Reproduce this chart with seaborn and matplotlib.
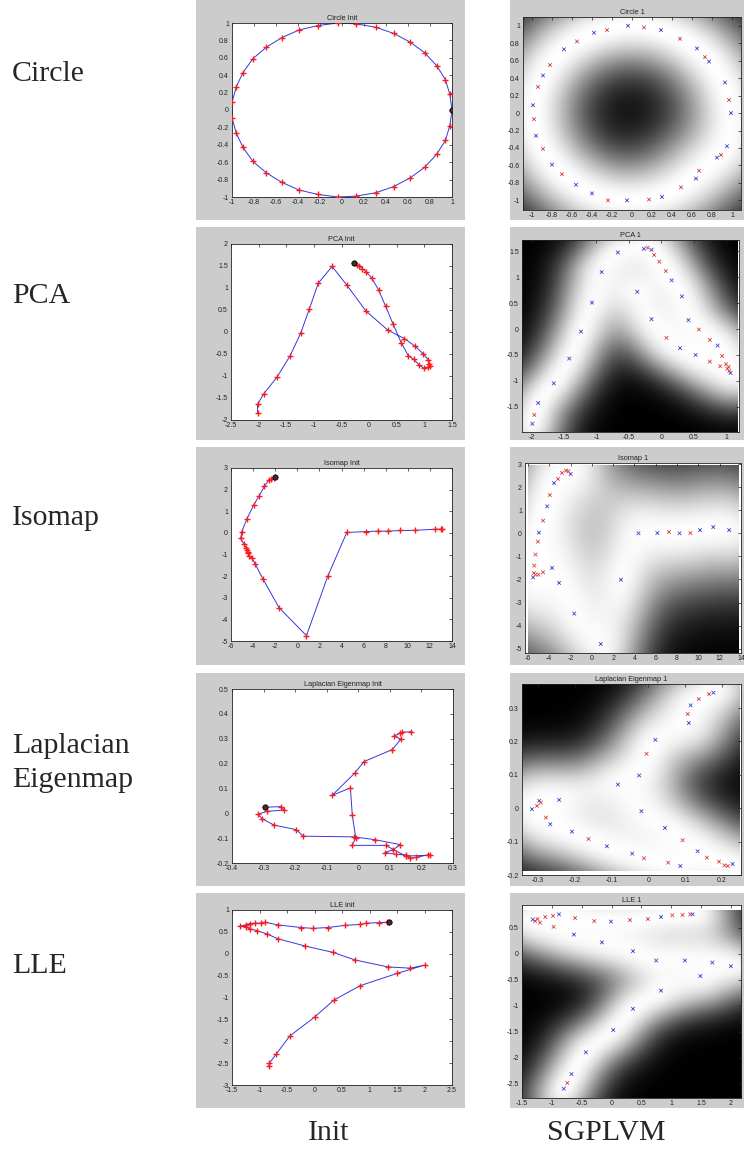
import numpy as np
import matplotlib
matplotlib.use("Agg")
import matplotlib.pyplot as plt
from matplotlib.patches import Rectangle
import seaborn as sns

sns.set_theme(style="white")
plt.rcParams["font.family"] = ["Liberation Sans", "DejaVu Sans"]
plt.rcParams["axes.unicode_minus"] = False

# ---------------------------------------------------------------- data
# Circle: initialisation (ordered path) and learned latent points
circle_init_x = [1.00, 0.98, 0.94, 0.86, 0.75, 0.62, 0.47, 0.31, 0.13, -0.04, -0.22, -0.39,
                 -0.55, -0.69, -0.81, -0.90, -0.96, -1.00, -1.00, -0.96, -0.90, -0.81, -0.69,
                 -0.55, -0.39, -0.22, -0.04, 0.13, 0.31, 0.47, 0.62, 0.75, 0.86, 0.94, 0.98]
circle_init_y = [0.00, 0.18, 0.35, 0.51, 0.66, 0.78, 0.88, 0.95, 0.99, 1.00, 0.97, 0.92,
                 0.83, 0.72, 0.59, 0.43, 0.27, 0.09, -0.09, -0.27, -0.43, -0.59, -0.72,
                 -0.83, -0.92, -0.97, -1.00, -0.99, -0.95, -0.88, -0.78, -0.66, -0.51, -0.35, -0.18]
circle_fit_x = [-0.04, 0.12, 0.29, 0.48, 0.65, 0.73, 0.77, 0.93, 0.97, 0.99, 0.95, 0.89,
                0.85, 0.67, 0.64, 0.49, 0.30, 0.17, -0.05, -0.24, -0.40, -0.56, -0.70, -0.80,
                -0.89, -0.96, -0.98, -0.99, -0.94, -0.89, -0.82, -0.68, -0.55, -0.38, -0.25]
circle_fit_y = [1.00, 0.98, 0.95, 0.85, 0.74, 0.64, 0.59, 0.35, 0.15, 0.00, -0.38, -0.48,
                -0.51, -0.66, -0.75, -0.85, -0.96, -0.99, -1.00, -1.00, -0.92, -0.82, -0.70,
                -0.59, -0.41, -0.26, -0.07, 0.09, 0.30, 0.43, 0.55, 0.73, 0.82, 0.92, 0.95]
circle_fit_c = list("brbrbrbbrbbrbrbrbrbrbbrbrbrbrbrbrbr")

# PCA
pca_init_x = [-0.27, -0.22, -0.18, -0.12, -0.05, 0.05, 0.17, 0.30, 0.43, 0.58, 0.71, 0.81,
              0.91, 0.99, 1.07, 1.11, 1.09, 1.07, 0.98, 0.83, 0.64, 0.34, -0.06, -0.40,
              -0.67, -0.92, -1.08, -1.24, -1.43, -1.67, -1.91, -2.02, -2.02]
pca_init_y = [1.57, 1.53, 1.50, 1.44, 1.36, 1.22, 0.96, 0.58, 0.19, -0.24, -0.54, -0.62,
              -0.76, -0.82, -0.80, -0.77, -0.73, -0.63, -0.50, -0.32, -0.15, 0.04, 0.48, 1.06,
              1.49, 1.11, 0.53, -0.03, -0.54, -1.03, -1.41, -1.64, -1.83]
pca_fit_x = [-1.99, -1.96, -1.90, -1.66, -1.42, -1.24, -1.07, -0.92, -0.67, -0.37, -0.15,
             0.08, 0.29, 0.53, 0.75, 0.91, 1.00, 1.02, 1.05, 1.07, 1.04, 0.94, 0.87, 0.75,
             0.58, 0.42, 0.32, 0.16, 0.07, -0.03, -0.11, -0.15, -0.21, -0.27]
pca_fit_y = [-1.83, -1.66, -1.43, -1.05, -0.57, -0.05, 0.51, 1.10, 1.48, 0.72, 0.19,
             -0.17, -0.37, -0.50, -0.63, -0.72, -0.68, -0.77, -0.81, -0.85, -0.73, -0.52,
             -0.32, -0.21, -0.01, 0.17, 0.63, 0.94, 1.12, 1.30, 1.43, 1.53, 1.57, 1.55]
pca_fit_c = list("brbbbbbbbbbrbbrrrrrbrrbrrbbbrrrbrb")

# Isomap
iso_init_x = [-1.98, -2.13, -2.37, -2.56, -2.98, -3.46, -3.95, -4.55, -5.03, -5.12, -4.82,
              -4.64, -4.58, -4.49, -4.43, -4.34, -4.13, -3.79, -3.10, -1.65, 0.83, 2.76,
              4.48, 6.24, 7.26, 8.17, 9.32, 10.68, 12.49, 13.00, 13.12]
iso_init_y = [2.60, 2.55, 2.51, 2.45, 2.15, 1.71, 1.28, 0.66, 0.05, -0.26, -0.52, -0.68,
              -0.80, -0.88, -0.95, -1.06, -1.14, -1.46, -2.14, -3.46, -4.75, -2.00, 0.02,
              0.06, 0.08, 0.08, 0.11, 0.12, 0.17, 0.17, 0.17]
iso_fit_x = [-1.99, -2.20, -2.42, -2.80, -3.17, -3.54, -3.94, -4.19, -4.57, -4.97, -5.06,
             -5.28, -5.40, -5.43, -5.50, -5.28, -5.00, -4.57, -3.73, -3.07, -1.65, 0.84,
             2.73, 4.38, 6.15, 7.24, 8.23, 9.25, 10.16, 11.40, 12.89]
iso_fit_y = [2.57, 2.69, 2.72, 2.62, 2.36, 2.18, 1.66, 1.17, 0.55, 0.03, -0.36, -0.92,
             -1.40, -1.72, -1.91, -1.79, -1.79, -1.69, -1.50, -2.15, -3.48, -4.80, -2.01,
             0.00, 0.01, 0.06, 0.00, 0.01, 0.14, 0.27, 0.14]
iso_fit_c = list("brrrrbrbrbrrrrbrrrbbbbbbbrbrbbb")

# Laplacian Eigenmap
lap_init_x = [-0.297, -0.244, -0.235, -0.289, -0.319, -0.304, -0.268, -0.196, -0.175, -0.013,
              0.052, 0.133, 0.111, 0.084, 0.118, 0.150, 0.163, 0.184, 0.227, 0.221, 0.150,
              0.087, -0.020, -0.008, -0.019, -0.025, -0.083, -0.011, 0.018, 0.107, 0.136,
              0.113, 0.133, 0.139, 0.166]
lap_init_y = [0.024, 0.027, 0.013, 0.008, -0.004, -0.022, -0.047, -0.066, -0.092, -0.095,
              -0.106, -0.126, -0.146, -0.158, -0.165, -0.168, -0.181, -0.177, -0.166, -0.169,
              -0.172, -0.129, -0.129, -0.099, -0.008, 0.102, 0.072, 0.162, 0.208, 0.256,
              0.299, 0.310, 0.323, 0.326, 0.328]
lap_fit_x = [-0.317, -0.303, -0.297, -0.293, -0.243, -0.279, -0.267, -0.208, -0.163, -0.113,
             -0.044, -0.012, 0.054, 0.087, 0.159, 0.192, 0.207, 0.216, 0.229, 0.134, 0.093,
             0.045, -0.019, -0.083, -0.025, -0.005, 0.019, 0.110, 0.107, 0.115, 0.137,
             0.165, 0.177]
lap_fit_y = [-0.003, 0.007, 0.022, 0.017, 0.025, -0.028, -0.048, -0.070, -0.092, -0.114,
             -0.136, -0.150, -0.163, -0.173, -0.148, -0.160, -0.171, -0.173, -0.167, -0.129,
             -0.096, -0.059, -0.009, 0.071, 0.098, 0.163, 0.205, 0.255, 0.282, 0.308, 0.327,
             0.342, 0.346]
lap_fit_c = list("brbrbrbbrbbrrbrrrrbbrbbbbrbbrbrrb")

# LLE
lle_init_x = [1.36, 1.32, 1.18, 0.94, 0.83, 0.56, 0.25, -0.03, -0.25, -0.67, -0.90, -0.97,
              -1.09, -1.18, -1.25, -1.35, -1.25, -1.18, -1.05, -0.86, -0.66, -0.18, 0.34,
              0.73, 1.33, 1.74, 2.00, 1.50, 0.83, 0.35, 0.00, -0.45, -0.70, -0.82, -0.83]
lle_init_y = [0.72, 0.72, 0.71, 0.70, 0.67, 0.65, 0.60, 0.58, 0.60, 0.66, 0.72, 0.70,
              0.70, 0.69, 0.66, 0.63, 0.62, 0.57, 0.53, 0.45, 0.34, 0.18, 0.03, -0.14,
              -0.30, -0.33, -0.26, -0.45, -0.73, -1.06, -1.45, -1.88, -2.30, -2.50, -2.56]
lle_fit_x = [-1.32, -1.28, -1.24, -1.20, -1.11, -0.98, -0.97, -0.88, -0.61, -0.63, -0.29,
             -0.01, -0.16, 0.31, 0.36, 0.61, 0.83, 0.75, 1.02, 1.19, 1.32, 1.36, 1.23,
             1.69, 2.00, 1.49, 0.83, 0.36, 0.03, -0.43, -0.67, -0.74, -0.80]
lle_fit_y = [0.66, 0.63, 0.67, 0.60, 0.71, 0.73, 0.52, 0.76, 0.69, 0.37, 0.63, 0.62, 0.22,
             0.65, 0.05, 0.67, 0.71, -0.13, 0.74, 0.75, 0.76, 0.76, -0.13, -0.17, -0.24,
             -0.43, -0.71, -1.06, -1.47, -1.90, -2.32, -2.49, -2.60]
lle_fit_c = list("brrrrrrbrbrbbrbrbbrrrbbbbbbbbbbrb")

# titles, tick values, axis ranges
row_names = ["Circle", "PCA", "Isomap", "Laplacian\nEigenmap", "LLE"]
init_titles = ["Circle Init", "PCA Init", "Isomap Init", "Laplacian Eigenmap Init", "LLE init"]
fit_titles = ["Circle 1", "PCA 1", "Isomap 1", "Laplacian Eigenmap 1", "LLE 1"]

init_xticks = [[-1, -0.8, -0.6, -0.4, -0.2, 0, 0.2, 0.4, 0.6, 0.8, 1],
               [-2.5, -2, -1.5, -1, -0.5, 0, 0.5, 1, 1.5],
               [-6, -4, -2, 0, 2, 4, 6, 8, 10, 12, 14],
               [-0.4, -0.3, -0.2, -0.1, 0, 0.1, 0.2, 0.3],
               [-1.5, -1, -0.5, 0, 0.5, 1, 1.5, 2, 2.5]]
init_yticks = [[-1, -0.8, -0.6, -0.4, -0.2, 0, 0.2, 0.4, 0.6, 0.8, 1],
               [-2, -1.5, -1, -0.5, 0, 0.5, 1, 1.5, 2],
               [-5, -4, -3, -2, -1, 0, 1, 2, 3],
               [-0.2, -0.1, 0, 0.1, 0.2, 0.3, 0.4, 0.5],
               [-3, -2.5, -2, -1.5, -1, -0.5, 0, 0.5, 1]]
fit_xticks = [[-1, -0.8, -0.6, -0.4, -0.2, 0, 0.2, 0.4, 0.6, 0.8, 1],
              [-2, -1.5, -1, -0.5, 0, 0.5, 1],
              [-6, -4, -2, 0, 2, 4, 6, 8, 10, 12, 14],
              [-0.3, -0.2, -0.1, 0, 0.1, 0.2],
              [-1.5, -1, -0.5, 0, 0.5, 1, 1.5, 2]]
fit_yticks = [[-1, -0.8, -0.6, -0.4, -0.2, 0, 0.2, 0.4, 0.6, 0.8, 1],
              [-1.5, -1, -0.5, 0, 0.5, 1, 1.5],
              [-5, -4, -3, -2, -1, 0, 1, 2, 3],
              [-0.2, -0.1, 0, 0.1, 0.2, 0.3],
              [-2.5, -2, -1.5, -1, -0.5, 0, 0.5]]
fit_xlims = [(-1.09, 1.09), (-2.15, 1.20), (-6.27, 13.8), (-0.344, 0.252), (-1.50, 2.17)]
fit_ylims = [(-1.11, 1.10), (-1.99, 1.72), (-5.19, 3.05), (-0.195, 0.372), (-2.78, 0.94)]
# extent of the computed map inside each right-hand axes
fit_extents = [(-1.09, 1.09, -1.11, 1.10), (-2.15, 1.17, -1.99, 1.72),
               (-6.00, 13.8, -5.19, 2.95), (-0.344, 0.248, -0.188, 0.372),
               (-1.50, 2.17, -2.78, 0.83)]
# kernel lengthscales (x, y) for the latent-space confidence map
fit_lengthscales = [(0.48, 0.48), (0.55, 0.55), (3.6, 2.6), (0.11, 0.11), (0.58, 0.58)]

inits = [(circle_init_x, circle_init_y), (pca_init_x, pca_init_y), (iso_init_x, iso_init_y),
         (lap_init_x, lap_init_y), (lle_init_x, lle_init_y)]
fits = [(circle_fit_x, circle_fit_y, circle_fit_c), (pca_fit_x, pca_fit_y, pca_fit_c),
        (iso_fit_x, iso_fit_y, iso_fit_c), (lap_fit_x, lap_fit_y, lap_fit_c),
        (lle_fit_x, lle_fit_y, lle_fit_c)]
closed_path = [True, False, False, False, False]

# ---------------------------------------------------------------- layout (pixels)
W, H = 744, 1150
fig = plt.figure(figsize=(W / 100, H / 100), dpi=100)
fig.patch.set_facecolor("white")

row_bands = [(0, 220), (227, 440), (447, 665), (673, 886), (893, 1108)]
left_band_x = (196, 465)
right_band_x = (510, 745)
init_boxes = [(232, 23, 452, 197), (231, 244, 452, 420), (231, 468, 452, 641),
              (232, 689, 453, 863), (232, 910, 452, 1085)]
fit_boxes = [(523, 17, 741, 210), (522, 240, 739, 432), (525, 463, 741, 653),
             (522, 684, 741, 875), (522, 905, 741, 1098)]
row_label_y = [74, 296, 518, 763, 966]


def frac_box(l, t, r, b):
    return [l / W, 1 - b / H, (r - l) / W, (b - t) / H]


def gray_band(x0, x1, t, b):
    fig.add_artist(Rectangle((x0 / W, 1 - b / H), (x1 - x0) / W, (b - t) / H,
                             transform=fig.transFigure, facecolor="#cccccc",
                             edgecolor="none", zorder=-5))


def style_axes(ax, xt, yt, title):
    ax.set_xticks(xt)
    ax.set_yticks(yt)
    ax.set_xticklabels(["%g" % v for v in xt])
    ax.set_yticklabels(["%g" % v for v in yt])
    ax.tick_params(direction="in", length=2.2, width=0.5, top=True, right=True,
                   labelsize=5.0, colors="#222222")
    ax.tick_params(axis="x", pad=1.6)
    ax.tick_params(axis="y", pad=2.2)
    for s in ax.spines.values():
        s.set_color("#222222")
        s.set_linewidth(0.6)
    ax.set_xlabel("")
    ax.set_ylabel("")
    ax.set_title(title, fontsize=5.3, pad=2.5, color="#222222")


def confidence_map(px, py, ext, ls, n=240):
    """1 - GP posterior variance of an RBF kernel fitted on the latent points."""
    gx = np.linspace(ext[0], ext[1], n)
    gy = np.linspace(ext[2], ext[3], n)
    GX, GY = np.meshgrid(gx, gy)
    P = np.column_stack([GX.ravel(), GY.ravel()])
    X = np.column_stack([px, py])

    def k(A, B):
        d = ((A[:, None, 0] - B[None, :, 0]) / ls[0]) ** 2 + \
            ((A[:, None, 1] - B[None, :, 1]) / ls[1]) ** 2
        return np.exp(-0.5 * d)

    K = k(X, X) + 2e-2 * np.eye(len(X))
    Ks = k(P, X)
    v = np.einsum("ij,ij->i", Ks @ np.linalg.inv(K), Ks)
    return np.clip(v / v.max(), 0, 1).reshape(n, n)


serif = ["Liberation Serif", "DejaVu Serif"]

for i in range(5):
    t, b = row_bands[i]
    gray_band(*left_band_x, t, b)
    gray_band(*right_band_x, t, b)

    # ---- initialisation panel
    ax = fig.add_axes(frac_box(*init_boxes[i]))
    ax.set_facecolor("white")
    x, y = inits[i]
    lx, ly = list(x), list(y)
    if closed_path[i]:
        lx, ly = lx + lx[:1], ly + ly[:1]
    sns.lineplot(x=lx, y=ly, sort=False, estimator=None, color="#3636e0",
                 linewidth=0.7, ax=ax)
    sns.scatterplot(x=x, y=y, marker="+", color="#ff1a1a", s=18, linewidth=1.0, ax=ax,
                    zorder=3)
    sns.scatterplot(x=x[:1], y=y[:1], marker="o", color="#333333", edgecolor="black",
                    s=14, linewidth=0.6, ax=ax, zorder=4)
    ax.set_xlim(init_xticks[i][0], init_xticks[i][-1])
    ax.set_ylim(init_yticks[i][0], init_yticks[i][-1])
    style_axes(ax, init_xticks[i], init_yticks[i], init_titles[i])

    # ---- learned latent space panel
    ax = fig.add_axes(frac_box(*fit_boxes[i]))
    ax.set_facecolor("white")
    fx, fy, fc = fits[i]
    ext = fit_extents[i]
    img = confidence_map(np.array(fx), np.array(fy), ext, fit_lengthscales[i])
    ax.imshow(img, extent=ext, origin="lower", cmap="gray", vmin=0, vmax=1,
              aspect="auto", interpolation="bilinear", zorder=0)
    sns.scatterplot(x=fx, y=fy, hue=fc, palette={"r": "#e04848", "b": "#4848d8"},
                    marker="x", s=7, linewidth=0.6, legend=False, ax=ax, zorder=3)
    ax.set_xlim(*fit_xlims[i])
    ax.set_ylim(*fit_ylims[i])
    style_axes(ax, fit_xticks[i], fit_yticks[i], fit_titles[i])

    fig.text(12 / W, 1 - row_label_y[i] / H, row_names[i], ha="left", va="center",
             family=serif, fontsize=21.5, linespacing=1.4)

fig.text(329 / W, 1 - 1133 / H, "Init", ha="center", va="center",
         family=serif, fontsize=21.5)
fig.text(606 / W, 1 - 1133 / H, "SGPLVM", ha="center", va="center",
         family=serif, fontsize=21.5)

fig.savefig("out.png", dpi=100, facecolor="white")
